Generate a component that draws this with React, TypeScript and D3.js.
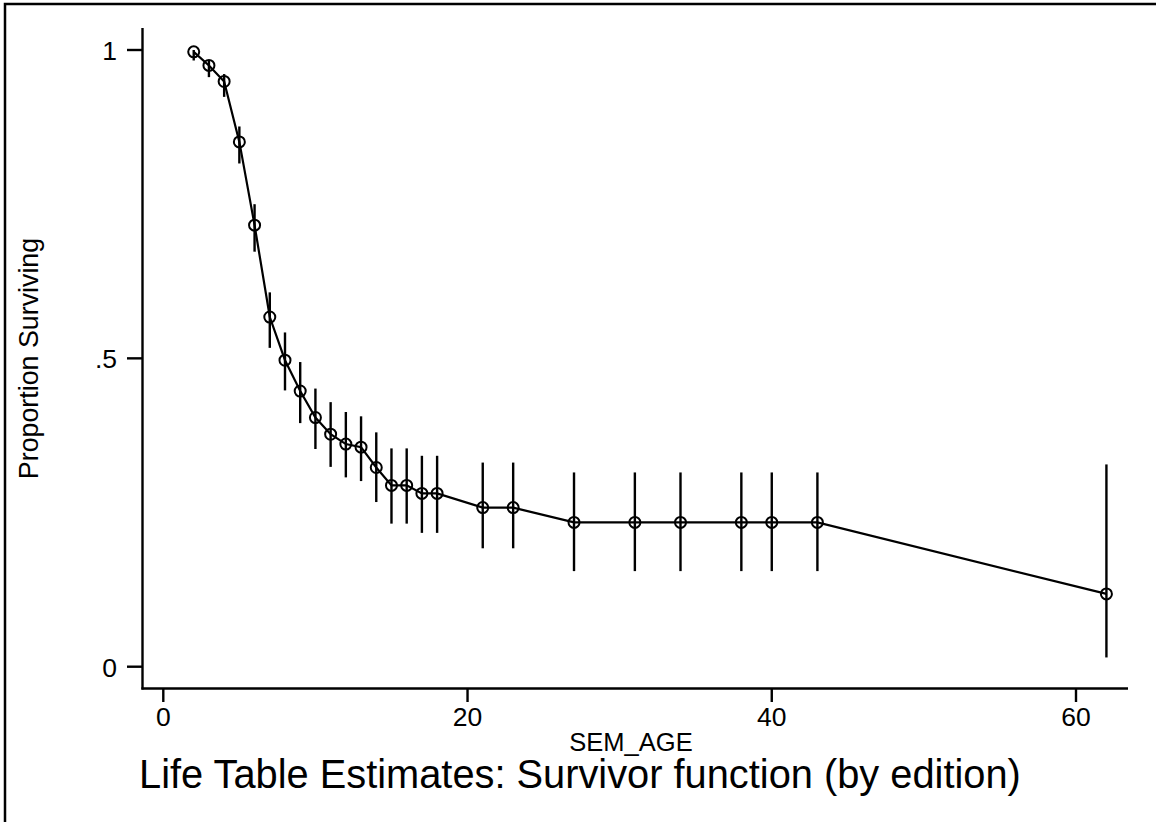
import { useRef, useEffect } from "react";
import * as d3 from "d3";

const ages = [2, 3, 4, 5, 6, 7, 8, 9, 10, 11, 12, 13, 14, 15, 16, 17, 18, 21, 23, 27, 31, 34, 38, 40, 43, 62];
const survival = [0.997, 0.975, 0.949, 0.851, 0.716, 0.567, 0.497, 0.447, 0.404, 0.377, 0.361, 0.356, 0.323, 0.294, 0.294, 0.281, 0.281, 0.258, 0.258, 0.234, 0.234, 0.234, 0.234, 0.234, 0.234, 0.118];
const lower = [0.983, 0.956, 0.924, 0.816, 0.673, 0.517, 0.448, 0.395, 0.353, 0.324, 0.307, 0.301, 0.267, 0.232, 0.232, 0.217, 0.217, 0.192, 0.192, 0.155, 0.155, 0.155, 0.155, 0.155, 0.155, 0.015];
const upper = [1.0, 0.983, 0.961, 0.876, 0.75, 0.607, 0.542, 0.494, 0.451, 0.429, 0.413, 0.406, 0.38, 0.354, 0.354, 0.342, 0.342, 0.331, 0.331, 0.315, 0.315, 0.315, 0.315, 0.315, 0.315, 0.328];

const xTicks = [0, 20, 40, 60];
const yTicks = [0, 0.5, 1];
const yTickLabels = ["0", ".5", "1"];

const TITLE = "Life Table Estimates: Survivor function (by edition)";
const X_LABEL = "SEM_AGE";
const Y_LABEL = "Proportion Surviving";

const FONT = "'Liberation Sans', Arial, Helvetica, sans-serif";

export default function App() {
  const ref = useRef<SVGSVGElement>(null);

  useEffect(() => {
    if (!ref.current) return;
    const svg = d3.select(ref.current);
    svg.selectAll("*").remove();

    const x = d3.scaleLinear().domain([0, 60]).range([163.3, 1076]);
    const y = d3.scaleLinear().domain([0, 1]).range([666.7, 50]);

    // outer frame
    svg.append("rect").attr("x", 5).attr("y", 4).attr("width", 1300).attr("height", 1000)
      .attr("fill", "none").attr("stroke", "#000").attr("stroke-width", 2.5);

    const g = svg.append("g").attr("font-family", FONT);

    // axes lines
    g.append("line").attr("x1", 142.5).attr("x2", 142.5).attr("y1", 28).attr("y2", 689.5)
      .attr("stroke", "#000").attr("stroke-width", 2.4);
    g.append("line").attr("x1", 141.4).attr("x2", 1128).attr("y1", 688.5).attr("y2", 688.5)
      .attr("stroke", "#000").attr("stroke-width", 2.4);

    // y ticks
    yTicks.forEach((t, i) => {
      g.append("line").attr("x1", 127).attr("x2", 142.5).attr("y1", y(t)).attr("y2", y(t))
        .attr("stroke", "#000").attr("stroke-width", 2.4);
      g.append("text").attr("x", 117).attr("y", y(t)).attr("dy", "0.38em")
        .attr("text-anchor", "end").attr("font-size", 26.5).text(yTickLabels[i]);
    });

    // x ticks
    xTicks.forEach((t) => {
      g.append("line").attr("x1", x(t)).attr("x2", x(t)).attr("y1", 688.5).attr("y2", 702)
        .attr("stroke", "#000").attr("stroke-width", 2.4);
      g.append("text").attr("x", x(t)).attr("y", 726).attr("text-anchor", "middle")
        .attr("font-size", 26.5).text(String(t));
    });

    // labels
    g.append("text").attr("x", 631).attr("y", 751).attr("text-anchor", "middle")
      .attr("font-size", 25.5).text(X_LABEL);
    g.append("text").attr("transform", "rotate(-90)").attr("x", -358.5).attr("y", 38)
      .attr("text-anchor", "middle").attr("font-size", 26.8).text(Y_LABEL);
    g.append("text").attr("x", 139).attr("y", 788).attr("font-size", 39.8).text(TITLE);

    // error bars
    ages.forEach((a, i) => {
      g.append("line").attr("x1", x(a)).attr("x2", x(a)).attr("y1", y(upper[i])).attr("y2", y(lower[i]))
        .attr("stroke", "#000").attr("stroke-width", 2.4);
    });

    // survivor line
    const line = d3.line<number>().x((_, i) => x(ages[i])).y((d) => y(d));
    g.append("path").attr("d", line(survival)).attr("fill", "none")
      .attr("stroke", "#000").attr("stroke-width", 2.2);

    // markers
    ages.forEach((a, i) => {
      g.append("circle").attr("cx", x(a)).attr("cy", y(survival[i])).attr("r", 5.5)
        .attr("fill", "none").attr("stroke", "#000").attr("stroke-width", 2);
    });
  }, []);

  return (
    <svg ref={ref} width={1156} height={822}
      style={{ position: "absolute", left: 0, top: 0, display: "block", background: "#fff" }} />
  );
}
